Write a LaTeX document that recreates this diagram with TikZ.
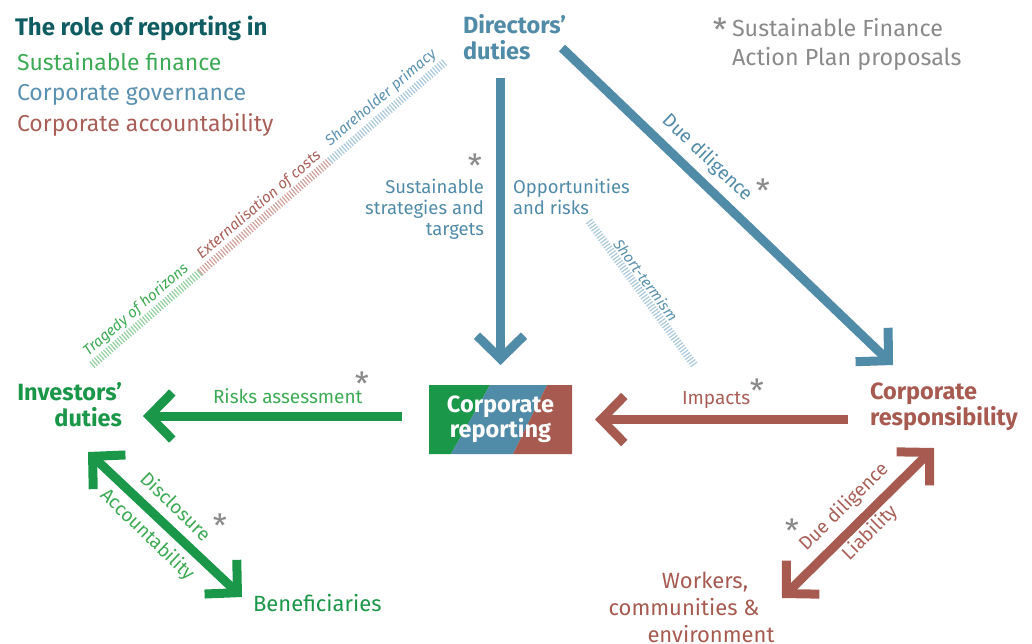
\documentclass[tikz,border=0pt]{standalone}
\usepackage{fontspec}
\setmainfont{Fira Sans}
\usetikzlibrary{arrows.meta,calc,backgrounds}
\definecolor{cTeal}{HTML}{0F5D62}
\definecolor{cGreen}{HTML}{1B9749}
\definecolor{cGreenT}{HTML}{3DAA55}
\definecolor{cBlue}{HTML}{508BA8}
\definecolor{cBlueT}{HTML}{5A91B0}
\definecolor{cRed}{HTML}{A65A50}
\definecolor{cRedT}{HTML}{A85F57}
\definecolor{cGray}{HTML}{8A8A8A}
\definecolor{cHG}{HTML}{93D0A0}
\definecolor{cHR}{HTML}{D0A19B}
\definecolor{cHB}{HTML}{A9C8DB}
\begin{document}
\begin{tikzpicture}[x=1pt,y=-1pt,
  every node/.style={inner sep=0pt, outer sep=0pt},
  boldlab/.style={font=\fontsize{23.5}{26}\selectfont\bfseries},
  reglab/.style={font=\fontsize{22}{27}\selectfont},
  edgelab/.style={font=\fontsize{18.5}{21}\selectfont},
  hatchlab/.style={font=\fontsize{15}{18}\selectfont\itshape},
  starmark/.style={font=\fontsize{32}{32}\selectfont, text=cGray},
  arr/.style={line width=9pt, line cap=butt, -{Straight Barb[length=23pt,width=47pt]}},
  darr/.style={line width=9pt, line cap=butt, {Straight Barb[length=23pt,width=47pt]}-{Straight Barb[length=23pt,width=47pt]}},
  hatch/.style={line width=8pt, dash pattern=on 1.2pt off 1.8pt},
]
\useasboundingbox (0,0) rectangle (1032,644);

% title and key
\node[anchor=base west, font=\fontsize{24}{28}\selectfont\bfseries, text=cTeal] (title) at (15,36) {The role of reporting in};
\node[anchor=base west, font=\fontsize{23}{28}\selectfont, text=cGreenT] (k1) at (17,71) {Sustainable finance};
\node[anchor=base west, font=\fontsize{23}{28}\selectfont, text=cBlueT] (k2) at (17,101) {Corporate governance};
\node[anchor=base west, font=\fontsize{23}{28}\selectfont, text=cRedT] (k3) at (17,132) {Corporate accountability};

\node[starmark] (lstar) at (720,30) {*};
\node[anchor=north west, font=\fontsize{23.3}{29}\selectfont, text=cGray, align=left] (leg) at (732,18) {Sustainable Finance\\Action Plan proposals};

% main nodes
\node[boldlab, text=cBlue, align=left, anchor=north west] (dir) at (463,14) {Directors’\\duties};
\node[boldlab, text=cGreen, align=right, anchor=north east] (inv) at (122,382) {Investors’\\duties};
\node[boldlab, text=cRed, align=left, anchor=north west] (cr) at (870,383) {Corporate\\responsibility};
\node[text=white, align=center, minimum width=143pt, minimum height=69pt, font=\fontsize{23.5}{25}\selectfont\bfseries] (box) at (500.5,419.5) {Corporate\\reporting};
\node[reglab, text=cGreen, anchor=base west] (ben) at (253,611) {Beneficiaries};
\node[reglab, text=cRed, align=center, anchor=north] (work) at (705,572) {Workers,\\communities \&\hspace*{42pt}\null\\\null\hspace*{12pt}environment};

\begin{scope}[on background layer]
\fill[cGreen] (box.north west) -- ($(box.north west)+(61,0)$) -- ($(box.north west)+(22,69)$) -- (box.south west) -- cycle;
\fill[cBlue] ($(box.north west)+(61,0)$) -- ($(box.north west)+(118,0)$) -- ($(box.north west)+(84,69)$) -- ($(box.north west)+(22,69)$) -- cycle;
\fill[cRed] ($(box.north west)+(118,0)$) -- (box.north east) -- (box.south east) -- ($(box.north west)+(84,69)$) -- cycle;
\end{scope}

% edge labels
\node[edgelab, text=cBlue, align=right, anchor=north east] (strat) at (484,179.5) {Sustainable\\strategies and\\targets};
\node[edgelab, text=cBlue, align=left, anchor=north west] (opp) at (513,179.5) {Opportunities\\and risks};
\node[edgelab, text=cGreenT, font=\fontsize{19}{21}\selectfont, anchor=base west] (risk) at (213,403) {Risks assessment};
\node[edgelab, text=cRedT, font=\fontsize{19}{21}\selectfont, anchor=base west] (imp) at (682,404) {Impacts};
\node[edgelab, text=cBlue, font=\fontsize{19}{21}\selectfont, rotate=-43.7] (dd1) at (707,158) {Due diligence};
\node[edgelab, text=cGreenT, font=\fontsize{19}{21}\selectfont, rotate=-44] (disc) at (176,506) {Disclosure};
\node[edgelab, text=cGreenT, font=\fontsize{19}{21}\selectfont, rotate=-44] (acc) at (147,535) {Accountability};
\node[edgelab, text=cRedT, font=\fontsize{19}{21}\selectfont, rotate=44.6] (dd2) at (844,507) {Due diligence};
\node[edgelab, text=cRedT, font=\fontsize{19}{21}\selectfont, rotate=44.6] (liab) at (870,533) {Liability};

% hatched labels
\node[hatchlab, text=cGreenT, rotate=40.6] (trag) at (136,310) {Tragedy of horizons};
\node[hatchlab, text=cRedT, rotate=40.6] (ext) at (259,205) {Externalisation of costs};
\node[hatchlab, text=cBlueT, rotate=40.6] (share) at (381,98) {Shareholder primacy};
\node[hatchlab, text=cBlueT, rotate=-53.6] (short) at (646,280) {Short-termism};

% stars
\node[starmark] (st1) at (475,166) {*};
\node[starmark] (st2) at (362,384) {*};
\node[starmark] (st3) at (220,526) {*};
\node[starmark] (st4) at (757,391) {*};
\node[starmark] (st5) at (763,191) {*};
\node[starmark] (st6) at (792,531) {*};

% connectors
\coordinate (dA) at ([shift={(99,34)}]dir.north west);
\coordinate (crA) at ([shift={(23,-18)}]cr.north west);
\draw[arr, cBlue] (dA) -- (crA);

\coordinate (dV) at (box.north |- dir.south);
\draw[arr, cBlue] ([yshift=-19pt]dV) -- ([yshift=20pt]box.north);

\coordinate (gS) at ([shift={(-27,-3.5)}]box.west);
\coordinate (gE) at (inv.east |- gS);
\draw[arr, cGreen] (gS) -- ([xshift=21pt]gE);

\coordinate (rE) at (box.east);
\coordinate (rS) at (cr.west |- rE);
\draw[arr, cRed] ([xshift=-22pt]rS) -- ([xshift=23pt]rE);

\coordinate (iA) at ([shift={(-34,70)}]inv.north east);
\coordinate (bA) at ([shift={(-11,-14)}]ben.base west);
\draw[darr, cGreen] (iA) -- (bA);

\coordinate (cA) at ([shift={(64,65)}]cr.north west);
\coordinate (wA) at ([shift={(77,26)}]work.north);
\draw[darr, cRed] (cA) -- (wA);

% hatched lines
\coordinate (h1) at ([shift={(-30,-17)}]inv.north east);
\coordinate (h2) at ([shift={(-18,48)}]dir.north west);
\draw[hatch, cHG] (h1) -- ($(h1)!0.306!(h2)$);
\draw[hatch, cHR] ($(h1)!0.306!(h2)$) -- ($(h1)!0.674!(h2)$);
\draw[hatch, cHB] ($(h1)!0.674!(h2)$) -- (h2);

\coordinate (s1) at ([shift={(76,41.5)}]opp.north west);
\coordinate (s2) at ([shift={(13,-38)}]imp.base west);
\draw[hatch, cHB] (s1) -- (s2);
\end{tikzpicture}
\end{document}
